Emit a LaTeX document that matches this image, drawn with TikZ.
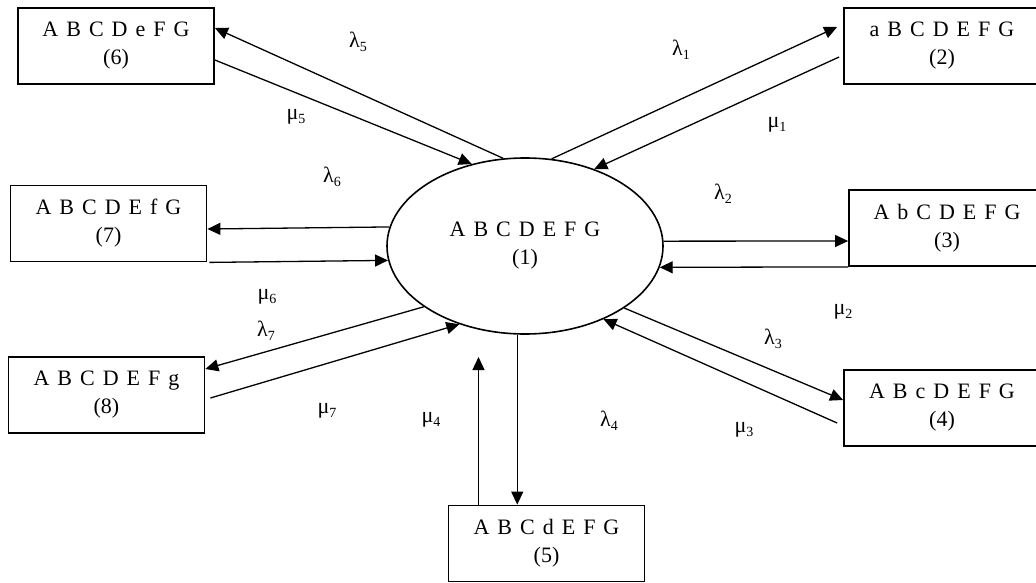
\documentclass[tikz,border=0pt]{standalone}
\usepackage{fontspec}
\setmainfont{Liberation Serif}
\usetikzlibrary{arrows.meta,shapes.geometric,calc}
\newcommand{\bxfont}{\fontsize{22}{28}\selectfont\spaceskip=8pt\relax}
\newcommand{\lbfont}{\fontsize{22}{26}\selectfont}
\newcommand{\glab}[2]{#1\raisebox{-3.5pt}{\fontsize{14}{14}\selectfont #2}}
\begin{document}
\begin{tikzpicture}[x=1pt,y=-1pt,
  box/.style={draw, line width=1.8pt, minimum width=196pt, minimum height=76pt, inner sep=0pt, align=center, font=\bxfont},
  st/.style={draw, ellipse, line width=1.6pt, minimum width=276pt, minimum height=176pt, inner sep=0pt, align=center, font=\bxfont},
  arr/.style={line width=1.3pt, -{Triangle[length=13pt,width=12pt]}},
  lbl/.style={font=\lbfont, inner sep=0pt}]
\useasboundingbox (0,0) rectangle (1036,583);
\clip (0,0) rectangle (1036,583);
% states
\node[st]  (e1) at (525,246)     {A B C D E F G\\(1)};
\node[box] (b2) at (942,46)      {a B C D E F G\\(2)};
\node[box] (b3) at (947,228)     {A b C D E F G\\(3)};
\node[box] (b4) at (942,408)     {A B c D E F G\\(4)};
\node[box] (b5) at (546.5,543.5) {A B C d E F G\\(5)};
\node[box] (b6) at (116,46)      {A B C D e F G\\(6)};
\node[box] (b7) at (108.5,223.5) {A B C D E f G\\(7)};
\node[box] (b8) at (106.5,395)   {A B C D E F g\\(8)};
\coordinate (m4end) at (478.5,357);
% transitions
\draw[arr] (e1.73) -- ([xshift=-6pt,yshift=19pt]b2.west);
\draw[arr] ([xshift=-4pt,yshift=-11pt]b2.west) -- (e1.48.8);
\draw[arr] (e1.2) -- ([yshift=-13pt]b3.west);
\draw[arr] (b3.south west) -- (e1.351.5);
\draw[arr] (e1.328.9) -- ([yshift=8pt]b4.west);
\draw[arr] ([xshift=-6pt,yshift=-15pt]b4.west) -- (e1.317.9);
\draw[arr] (e1.265) -- (e1.265 |- b5.north);
\draw[arr] (m4end |- b5.north) -- (m4end);
\draw[arr] (e1.104.5) -- ([yshift=18pt]b6.east);
\draw[arr] ([yshift=-14pt]b6.east) -- (e1.123);
\draw[arr] (e1.172.9) -- ([yshift=-5.5pt]b7.east);
\draw[arr] ([xshift=2pt]b7.south east) -- (e1.186.8);
\draw[arr] (e1.211.4) -- ([yshift=26pt]b8.east);
\draw[arr] ([xshift=5pt,yshift=-3pt]b8.east) -- (e1.230);
% rates
\node[lbl] (l1) at (681,50)  {\glab{λ}{1}};
\node[lbl] (u1) at (777,125) {\glab{μ}{1}};
\node[lbl] (l2) at (723,194) {\glab{λ}{2}};
\node[lbl] (u2) at (843,312) {\glab{μ}{2}};
\node[lbl] (l3) at (773,339) {\glab{λ}{3}};
\node[lbl] (u3) at (744,430) {\glab{μ}{3}};
\node[lbl] (l4) at (609,421) {\glab{λ}{4}};
\node[lbl] (u4) at (431,420) {\glab{μ}{4}};
\node[lbl] (l5) at (358,42)  {\glab{λ}{5}};
\node[lbl] (u5) at (296,117) {\glab{μ}{5}};
\node[lbl] (l6) at (332,177) {\glab{λ}{6}};
\node[lbl] (u6) at (267,297) {\glab{μ}{6}};
\node[lbl] (l7) at (266,331) {\glab{λ}{7}};
\node[lbl] (u7) at (327,411) {\glab{μ}{7}};
\end{tikzpicture}
\end{document}
